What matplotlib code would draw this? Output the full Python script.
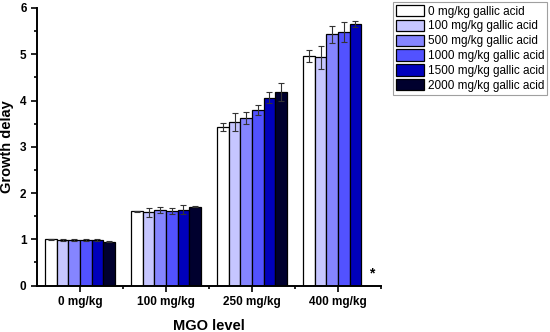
import matplotlib
matplotlib.use("Agg")
import matplotlib.pyplot as plt
import numpy as np
from matplotlib.ticker import MultipleLocator, FixedLocator

plt.rcParams['font.family'] = ['Liberation Sans', 'DejaVu Sans']

groups = ["0 mg/kg", "100 mg/kg", "250 mg/kg", "400 mg/kg"]
series = ["0 mg/kg gallic acid", "100 mg/kg gallic acid", "500 mg/kg gallic acid",
          "1000 mg/kg gallic acid", "1500 mg/kg gallic acid", "2000 mg/kg gallic acid"]
colors = ["#ffffff", "#c6c6ff", "#8585ff", "#5252ff", "#0000bb", "#00002e"]

# values per series across groups (None = not shown)
v0    = [1.00, 1.61, 3.42, 4.96]
v100  = [0.98, 1.58, 3.54, 4.93]
v500  = [0.98, 1.63, 3.63, 5.43]
v1000 = [0.98, 1.61, 3.79, 5.48]
v1500 = [0.98, 1.64, 4.06, 5.66]
v2000 = [0.95, 1.70, 4.18, None]
values = [v0, v100, v500, v1000, v1500, v2000]

e0    = [0.01, 0.01, 0.09, 0.13]
e100  = [0.02, 0.09, 0.19, 0.24]
e500  = [0.02, 0.06, 0.13, 0.18]
e1000 = [0.02, 0.06, 0.11, 0.21]
e1500 = [0.02, 0.10, 0.12, 0.06]
e2000 = [0.01, 0.01, 0.19, None]
errors = [e0, e100, e500, e1000, e1500, e2000]

fig = plt.figure(figsize=(5.5, 3.32), dpi=100)
ax = fig.add_axes([37/550, 1-285.5/332, (381-37)/550, (285.5-8)/332])

x = np.arange(len(groups))
w = 0.135
n = len(series)
for i in range(n):
    xs, ys, es = [], [], []
    for g in range(len(groups)):
        if values[i][g] is None:
            continue
        xs.append(x[g] + (i - (n-1)/2) * w)
        ys.append(values[i][g])
        es.append(errors[i][g])
    ax.bar(xs, ys, width=w, color=colors[i], edgecolor="black", linewidth=0.9,
           label=series[i], zorder=2)
    ax.errorbar(xs, ys, yerr=es, fmt="none", ecolor="#333333", elinewidth=0.8,
                capsize=2.5, capthick=0.8, zorder=3)

# asterisk where 2000 mg/kg bar missing at 400 mg/kg
ax.text(x[3] + (5 - (n-1)/2) * w + 0.05, 0.1, "*", ha="center", va="bottom",
        fontsize=10, fontweight="bold")

ax.set_xlim(-0.5, 3.5)
ax.set_ylim(0, 6)
ax.set_xticks(x)
ax.set_xticklabels(groups, fontweight="bold", fontsize=8.5)
ax.xaxis.set_minor_locator(FixedLocator([0.5, 1.5, 2.5, 3.5]))
ax.yaxis.set_major_locator(MultipleLocator(1))
ax.yaxis.set_minor_locator(MultipleLocator(0.5))
for lab in ax.get_yticklabels():
    lab.set_fontweight("bold")
    lab.set_fontsize(8.5)
ax.tick_params(axis="both", which="major", direction="out", length=4, width=1.2)
ax.tick_params(axis="both", which="minor", direction="out", length=2, width=1.2)
for s in ["top", "right"]:
    ax.spines[s].set_visible(False)
for s in ["left", "bottom"]:
    ax.spines[s].set_linewidth(1.4)

ax.set_ylabel("Growth delay", fontweight="bold", fontsize=10.5)
ax.yaxis.set_label_coords(-0.067, 0.5)
ax.set_xlabel("MGO level", fontweight="bold", fontsize=10.5, labelpad=8)

handles, labels = ax.get_legend_handles_labels()
leg = fig.legend(handles, labels, loc="upper left",
                 bbox_to_anchor=(393/550, 1-2/332), fontsize=8.5,
                 frameon=True, fancybox=False, edgecolor="#888888",
                 handlelength=2.4, handleheight=1.1, labelspacing=0.18,
                 handletextpad=0.3, borderpad=0.25, borderaxespad=0)
leg.get_frame().set_linewidth(0.8)

fig.savefig("out.png", dpi=100)
